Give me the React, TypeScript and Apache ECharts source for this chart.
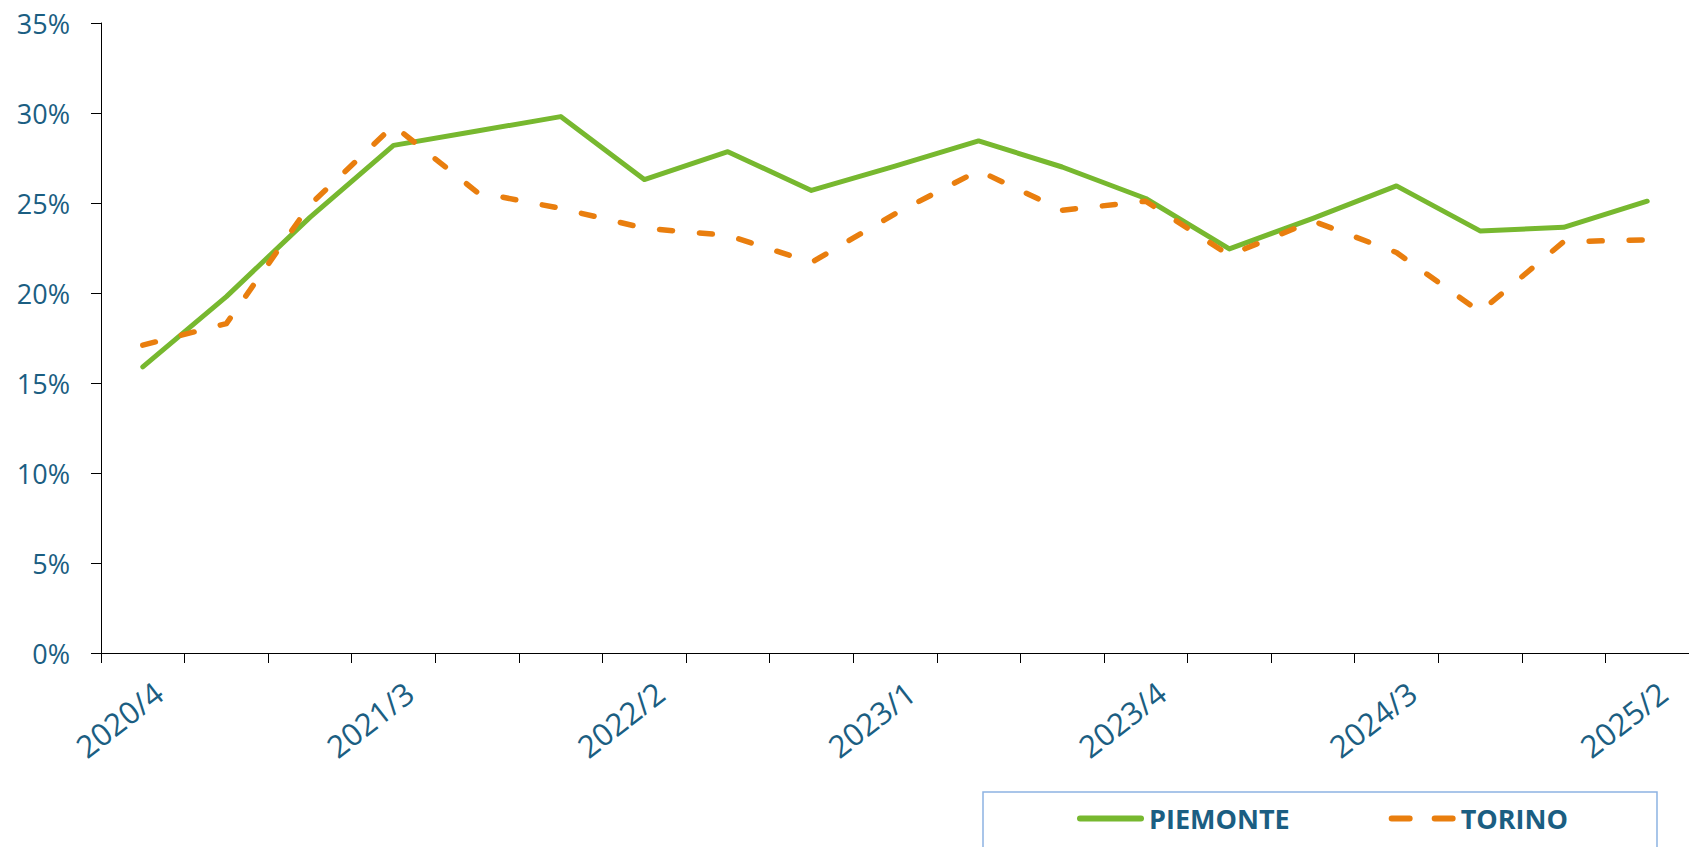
import React, { useEffect, useRef } from "react";
import * as echarts from "echarts";

const categories = [
  "2020/4", "2021/1", "2021/2", "2021/3", "2021/4", "2022/1", "2022/2", "2022/3", "2022/4",
  "2023/1", "2023/2", "2023/3", "2023/4", "2024/1", "2024/2", "2024/3", "2024/4", "2025/1", "2025/2",
];
const piemonte = [15.9, 19.8, 24.2, 28.2, 29.0, 29.8, 26.3, 27.85, 25.7, 27.05, 28.45, 27.0, 25.25, 22.45, 24.15, 25.95, 23.45, 23.65, 25.1];
const torino = [17.1, 18.3, 24.9, 29.3, 25.6, 24.7, 23.6, 23.2, 21.7, 24.4, 26.8, 24.6, 25.1, 22.1, 24.0, 22.25, 18.95, 22.85, 22.95];
const seriesNames = ["PIEMONTE", "TORINO"];
const yMin = 0;
const yMax = 35;
const yStep = 5;

const TEXT = "#1b5e82";
const FONT = "'Open Sans', sans-serif";
const GREEN = "#77b82f";
const ORANGE = "#e97e0e";

export default function App() {
  const ref = useRef<HTMLDivElement>(null);
  useEffect(() => {
    if (!ref.current) return;
    const chart = echarts.init(ref.current, undefined, { renderer: "svg" });
    chart.setOption({
      animation: false,
      backgroundColor: "#ffffff",
      grid: { left: 101, right: -9, top: 23, bottom: 194, containLabel: false },
      legend: {
        data: [
          {
            name: seriesNames[0],
            icon: "path://M3,0H64A3,3 0 0 1 64,6H3A3,3 0 0 1 3,0Z",
          },
          {
            name: seriesNames[1],
            icon: "path://M3,0H21A3,3 0 0 1 21,6H3A3,3 0 0 1 3,0Z M46,0H64A3,3 0 0 1 64,6H46A3,3 0 0 1 46,0Z",
          },
        ],
        left: 983,
        top: 792,
        orient: "horizontal",
        itemWidth: 67,
        itemHeight: 6,
        itemGap: 99,
        padding: [13, 89, 40, 94],
        borderColor: "#8db3e2",
        borderWidth: 1.5,
        textStyle: { color: TEXT, fontFamily: FONT, fontSize: 27, fontWeight: "bold" },
      },
      xAxis: {
        type: "category",
        data: categories,
        boundaryGap: true,
        axisLine: { show: true, lineStyle: { color: "#000", width: 1 } },
        axisTick: { show: true, length: 10, interval: 0, lineStyle: { color: "#000" } },
        axisLabel: {
          interval: 2,
          rotate: 38,
          margin: 48,
          padding: [0, -20, 0, 0],
          color: TEXT,
          fontFamily: FONT,
          fontSize: 31,
        },
        splitLine: { show: false },
      },
      yAxis: {
        type: "value",
        min: yMin,
        max: yMax,
        interval: yStep,
        axisLine: { show: true, lineStyle: { color: "#000", width: 1 } },
        axisTick: { show: true, length: 10, lineStyle: { color: "#000" } },
        axisLabel: {
          formatter: "{value}%",
          margin: 31,
          color: TEXT,
          fontFamily: FONT,
          fontSize: 27,
        },
        splitLine: { show: false },
      },
      series: [
        {
          name: seriesNames[0],
          type: "line",
          data: piemonte,
          symbol: "none",
          color: GREEN,
          lineStyle: { color: GREEN, width: 5, cap: "round", join: "round" },
        },
        {
          name: seriesNames[1],
          type: "line",
          data: torino,
          symbol: "none",
          color: ORANGE,
          lineStyle: { color: ORANGE, width: 5.5, type: [13, 27], cap: "round", join: "round" },
        },
      ],
    });
    return () => chart.dispose();
  }, []);
  return (
    <div
      ref={ref}
      style={{ position: "fixed", left: 0, top: 0, width: 1689, height: 847 }}
    />
  );
}
